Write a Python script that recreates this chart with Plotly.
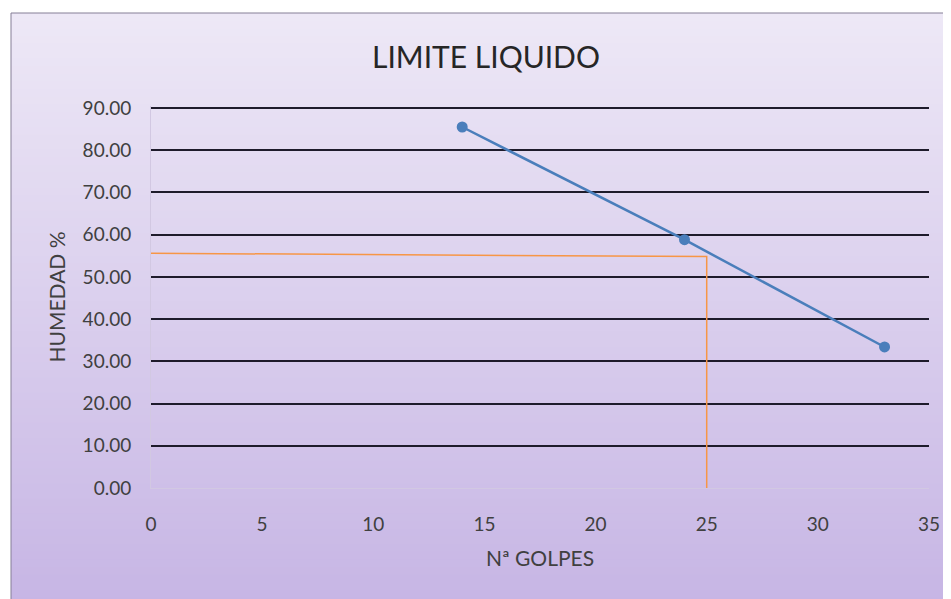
import plotly.graph_objects as go

# ensayo de limite liquido
golpes = [14, 24, 33]
humedad = [85.5, 58.8, 33.4]

# lectura del limite liquido a 25 golpes
lectura_x = [0, 25, 25]
lectura_y = [55.6, 54.8, 0]

x_ticks = [0, 5, 10, 15, 20, 25, 30, 35]
y_ticks = [0, 10, 20, 30, 40, 50, 60, 70, 80, 90]

# la pagina tiene 8 px de margen en el body
OFF = 8
W, H = 951, 599
L, R, T, B = 151 - OFF, 30, 98, 119
pw, ph = W - L - R, H - T - B
y_max = 90 * ph / 380


def px_x(p):
    return (p - OFF - L) / pw


def px_y(p):
    return (H - B - (p - OFF)) / ph


fig = go.Figure()

fig.add_trace(
    go.Scatter(
        x=lectura_x,
        y=lectura_y,
        mode="lines",
        line=dict(color="#f79646", width=1.5),
        showlegend=False,
        hoverinfo="skip",
    )
)
fig.add_trace(
    go.Scatter(
        x=golpes,
        y=humedad,
        mode="lines+markers",
        line=dict(color="#4a7ebb", width=2.5),
        marker=dict(color="#4a7ebb", size=11),
        showlegend=False,
    )
)

# fondo degradado del area del grafico
top = (237, 232, 246)
bot = (198, 180, 228)
y_top, y_bot = 13, 620
n = 80
shapes = []
for i in range(n):
    t = i / (n - 1)
    c = tuple(round(top[k] + (bot[k] - top[k]) * t) for k in range(3))
    a = y_top + (y_bot - y_top) * i / n
    b = y_top + (y_bot - y_top) * (i + 1) / n + 1
    shapes.append(
        dict(
            type="rect", xref="paper", yref="paper",
            x0=px_x(11), x1=px_x(970), y0=px_y(b), y1=px_y(a),
            fillcolor="rgb(%d,%d,%d)" % c, line_width=0, layer="below",
        )
    )
shapes.append(
    dict(
        type="rect", xref="paper", yref="paper",
        x0=px_x(11), x1=px_x(970), y0=px_y(620), y1=px_y(13),
        line=dict(color="#857f96", width=1), layer="below",
    )
)

fig.update_layout(
    width=W,
    height=H,
    margin=dict(l=L, r=R, t=T, b=B),
    paper_bgcolor="white",
    plot_bgcolor="rgba(0,0,0,0)",
    shapes=shapes,
    font=dict(family="Lato, Open Sans, sans-serif", color="#404040"),
    title=dict(
        text="LIMITE LIQUIDO",
        x=(486 - OFF) / W, xanchor="center",
        y=1 - (57 - OFF) / H, yanchor="middle",
        font=dict(size=30, color="#262626"),
    ),
)
fig.update_xaxes(
    range=[0, 35],
    tickvals=x_ticks,
    showgrid=False,
    zeroline=False,
    showline=True,
    linecolor="#d2c8e2",
    linewidth=1,
    ticks="",
    ticklabelstandoff=19,
    tickfont=dict(size=19),
    title=dict(text="Nª GOLPES", font=dict(size=21), standoff=17),
)
fig.update_yaxes(
    range=[0, y_max],
    tickvals=y_ticks,
    tickformat=".2f",
    showgrid=True,
    gridcolor="#1e1b2b",
    gridwidth=1.5,
    zeroline=False,
    showline=True,
    linecolor="#d2c8e2",
    linewidth=1,
    ticks="",
    ticklabelstandoff=15,
    tickfont=dict(size=19),
    title=dict(text="HUMEDAD %", font=dict(size=21), standoff=11),
)

fig.write_html("out.html")
